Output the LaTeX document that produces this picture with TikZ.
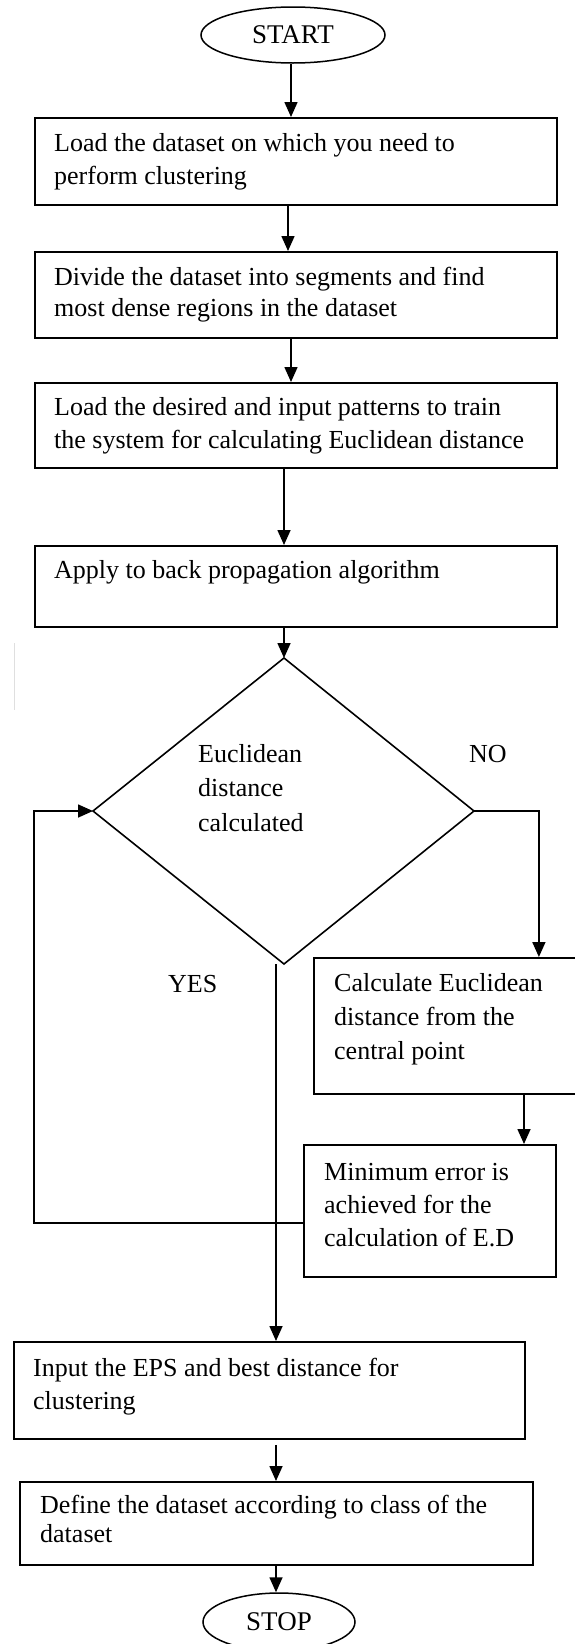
\documentclass[tikz,border=0pt]{standalone}
\usepackage{fontspec}
\setmainfont{Liberation Serif}
\usetikzlibrary{arrows.meta,shapes.geometric,calc}
\begin{document}
\begin{tikzpicture}[x=1pt,y=-1pt,
  box/.style={draw, line width=1.8pt, inner sep=0pt, anchor=north west},
  txt/.style={inner sep=0pt, anchor=north west, align=left, font=\fontsize{26}{33}\selectfont},
  arr/.style={line width=1.6pt, -{Triangle[width=13pt,length=15pt]}},
  term/.style={ellipse, draw, line width=1.5pt, inner sep=0pt, font=\fontsize{27}{32}\selectfont},
  lbl/.style={inner sep=0pt, anchor=base west, font=\fontsize{26}{33}\selectfont}]
\fill[white] (0,0) rectangle (574,1644);
\useasboundingbox (0,0) rectangle (574,1644);

% terminals
\node[term, minimum width=184pt, minimum height=56pt] (start) at (293,35) {START};
\node[term, minimum width=152pt, minimum height=58pt] (stop) at (279,1622) {STOP};

% process boxes
\node[box, minimum width=522pt, minimum height=87pt] (b1) at (34,117) {};
\node[box, minimum width=522pt, minimum height=86pt] (b2) at (34,251) {};
\node[box, minimum width=522pt, minimum height=85pt] (b3) at (34,382) {};
\node[box, minimum width=522pt, minimum height=81pt] (b4) at (34,545) {};
\node[box, minimum width=265pt, minimum height=136pt] (calc) at (313,957) {};
\node[box, minimum width=252pt, minimum height=132pt] (mine) at (303,1144) {};
\node[box, minimum width=511pt, minimum height=97pt] (inp) at (13,1341) {};
\node[box, minimum width=513pt, minimum height=83pt] (def) at (19,1481) {};

% texts
\node[txt] (t1) at (54,128) {\strut Load the dataset on which you need to\\\strut perform clustering};
\node[txt, font=\fontsize{26}{31}\selectfont] (t2) at (54,263.3) {\strut Divide the dataset into segments and find\\\strut most dense regions in the dataset};
\node[txt] (t3) at (54,391.9) {\strut Load the desired and input patterns to train\\\strut the system for calculating Euclidean distance};
\node[txt] (t4) at (54,554.9) {\strut Apply to back propagation algorithm};
\node[txt, font=\fontsize{26}{34}\selectfont] (tc) at (334,967.2) {\strut Calculate Euclidean\\\strut distance from the\\\strut central point};
\node[txt] (tm) at (324,1156.9) {\strut Minimum error is\\\strut achieved for the\\\strut calculation of E.D};
\node[txt] (ti) at (33,1352.9) {\strut Input the EPS and best distance for\\\strut clustering};
\node[txt, font=\fontsize{26}{29}\selectfont] (td) at (40,1492.7) {\strut Define the dataset according to class of the\\\strut dataset};

% decision
\coordinate (dT) at (284,658);
\coordinate (dR) at (474,811);
\coordinate (dB) at (284,964);
\coordinate (dL) at (93,811);
\draw[line width=1.6pt] (dT) -- (dR) -- (dB) -- (dL) -- cycle;
\node[txt, font=\fontsize{26}{34.5}\selectfont] (td0) at (198,737.9) {\strut Euclidean\\\strut distance\\\strut calculated};
\node[lbl] (no) at (469,762) {NO};
\node[lbl] (yes) at (168,992) {YES};

% faint mark
\draw[gray!25, line width=0.6pt] (14,643) -- (14,710);

% helper coordinates
\coordinate (yesTop) at (276,964);
\coordinate (c2m) at (524,1093);
\coordinate (loopL) at (34,811);

% connectors
\draw[arr] (start.south -| 291,0) -- (b1.north -| 291,0);
\draw[arr] (b1.south -| 288,0) -- (b2.north -| 288,0);
\draw[arr] (b2.south -| 291,0) -- (b3.north -| 291,0);
\draw[arr] (b3.south -| dT) -- (b4.north -| dT);
\draw[arr] (b4.south -| dT) -- (dT);
\draw[arr] (dR) -| ([xshift=92.5pt]calc.north);
\draw[arr] (calc.south -| c2m) -- (mine.north -| c2m);
\draw[arr] ([yshift=-12pt]mine.west) -| (loopL) -- (dL);
\draw[arr] (yesTop) -- (inp.north -| yesTop);
\draw[arr] ($(inp.south -| yesTop)+(0,5)$) -- (def.north -| yesTop);
\draw[arr] (def.south -| yesTop) -- (stop.north -| yesTop);
\end{tikzpicture}
\end{document}
